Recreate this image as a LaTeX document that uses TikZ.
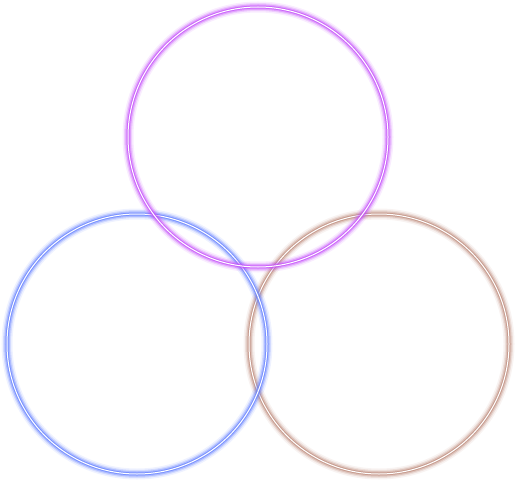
\documentclass[tikz,border=0pt]{standalone}
\usepackage{xcolor}
\usepackage{tikz}
\definecolor{ringviolet}{RGB}{196,78,250}
\definecolor{ringblue}{RGB}{100,128,255}
\definecolor{ringbrown}{RGB}{190,140,125}

\begin{document}
\begin{tikzpicture}[x=1pt,y=-1pt,
  ring/.style={circle,inner sep=0pt,minimum size=260pt,draw=#1,draw opacity=0.7,line width=3pt,
    preaction={draw=#1,draw opacity=0.1,line width=11pt},
    preaction={draw=#1,draw opacity=0.2,line width=8pt},
    preaction={draw=#1,draw opacity=0.35,line width=5.5pt},
    postaction={draw=white,draw opacity=1,line width=1pt}}
]
\useasboundingbox (0,0) rectangle (516,481);
\node[ring=ringbrown] (right) at (379,344) {};
\node[ring=ringblue] (left) at (137,344) {};
\node[ring=ringviolet] (top) at (258,137) {};
\end{tikzpicture}
\end{document}
